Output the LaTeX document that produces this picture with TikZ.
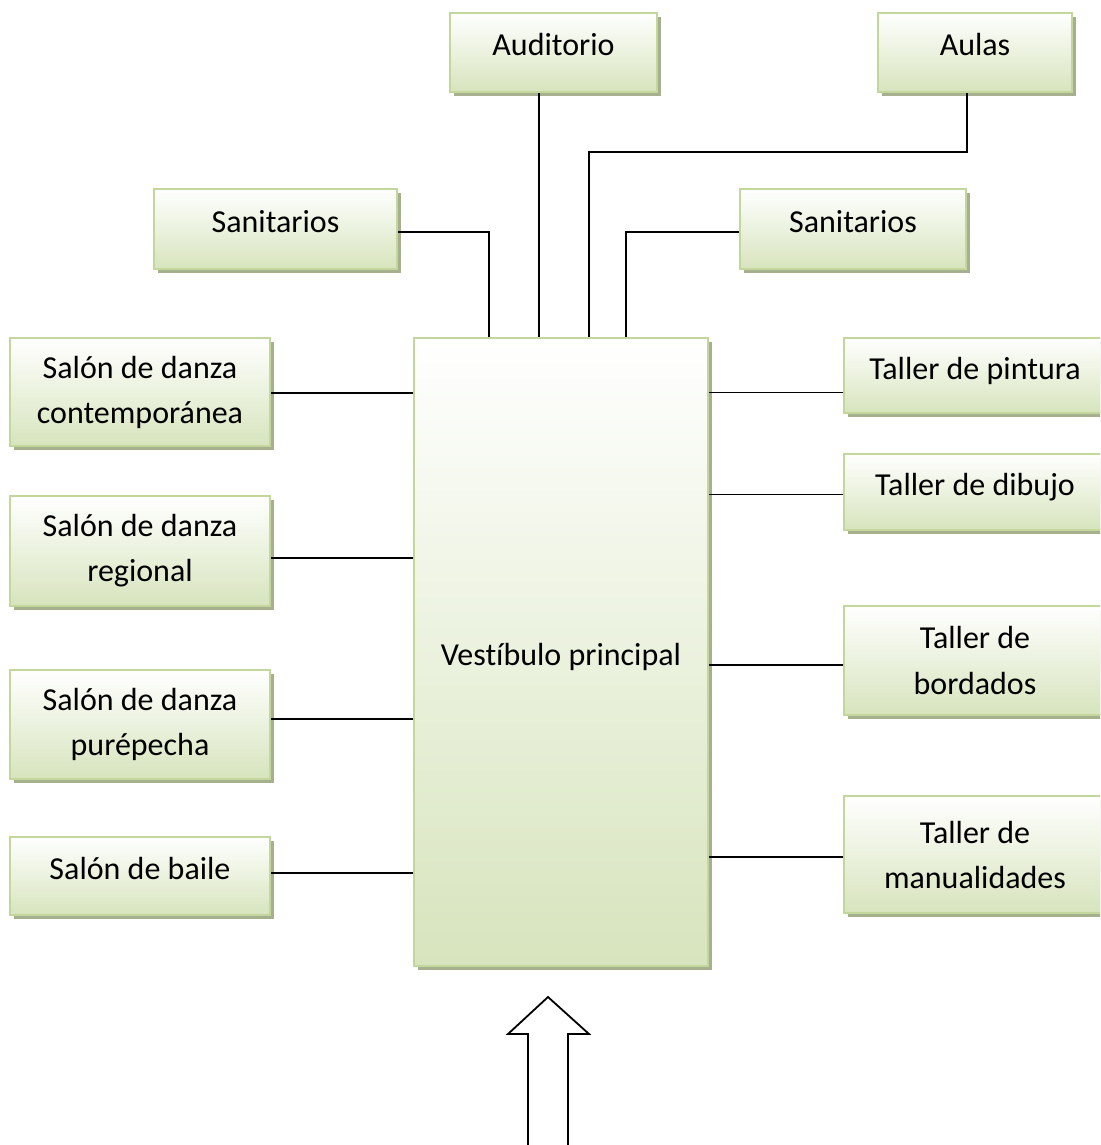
\documentclass[tikz,border=0pt]{standalone}
\usepackage{fontspec}
\setmainfont{Carlito}[Ligatures=NoCommon]
\usetikzlibrary{shadows,calc}
\definecolor{boxborder}{HTML}{C3D69B}
\definecolor{boxgreen}{HTML}{D7E4BD}
\definecolor{shadowc}{HTML}{A7B08E}
\begin{document}
\begin{tikzpicture}[x=1pt,y=-1pt,
  box/.style={draw=boxborder, line width=2.5pt, top color=white, bottom color=boxgreen,
    drop shadow={shadow xshift=4pt, shadow yshift=-4pt, fill=shadowc, opacity=1},
    align=center, inner sep=0pt, font=\fontsize{32}{45}\selectfont},
  one/.style={text height=24pt, text depth=17pt},
  conn/.style={line width=1.8pt, black},
  entry/.style={line width=1.8pt, black, fill=white, line join=miter}]
\useasboundingbox (0,0) rectangle (1100,1145);
\clip (0,0) rectangle (1100,1145);

% top
\node[box, one, minimum width=207pt, minimum height=79pt] (aud) at (553.5,52.5) {Auditorio};
\node[box, one, minimum width=194pt, minimum height=79pt] (aulas) at (975,52.5) {Aulas};
\node[box, one, minimum width=243pt, minimum height=80pt] (sanL) at (275.5,229) {Sanitarios};
\node[box, one, minimum width=226pt, minimum height=80pt] (sanR) at (853,229) {Sanitarios};

% centre
\node[box, text height=27pt, text depth=0pt, minimum width=294pt, minimum height=628pt] (vest) at (561,652) {Vestíbulo principal};

% left
\node[box, minimum width=260pt, minimum height=108pt] (dc) at (140,392) {Salón de danza\\contemporánea};
\node[box, minimum width=260pt, minimum height=110pt] (dr) at (140,551) {Salón de danza\\regional};
\node[box, minimum width=260pt, minimum height=109pt] (dp) at (140,724.5) {Salón de danza\\purépecha};
\node[box, one, minimum width=260pt, minimum height=78pt] (db) at (140,876) {Salón de baile};

% right
\node[box, one, minimum width=262pt, minimum height=75pt] (tp) at (975,375.5) {Taller de pintura};
\node[box, one, minimum width=262pt, minimum height=76pt] (td) at (975,492) {Taller de dibujo};
\node[box, minimum width=262pt, minimum height=109pt] (tb) at (975,660.5) {Taller de\\bordados};
\node[box, minimum width=262pt, minimum height=117pt] (tm) at (975,854.5) {Taller de\\manualidades};

% top connectors
\draw[conn] ([yshift=-3pt]sanL.east) -| ($(vest.north west)+(76,0)$);
\draw[conn] ([xshift=-14.5pt]aud.south) -- ([xshift=-14.5pt]aud.south |- vest.north);
\draw[conn] ([xshift=-8pt]aulas.south) -- ++(0,59) -| ($(vest.north west)+(176,0)$);
\draw[conn] ([yshift=-3pt]sanR.west) -| ($(vest.north west)+(213,0)$);

% left connectors
\draw[conn] ([yshift=-1pt]dc.east) -- ([yshift=-1pt]dc.east -| vest.west);
\draw[conn] ([yshift=-7pt]dr.east) -- ([yshift=-7pt]dr.east -| vest.west);
\draw[conn] ([yshift=5.5pt]dp.east) -- ([yshift=5.5pt]dp.east -| vest.west);
\draw[conn] ([yshift=3pt]db.east) -- ([yshift=3pt]db.east -| vest.west);

% right connectors
\draw[conn] ([yshift=-17pt]tp.west) -- ([yshift=-17pt]tp.west -| vest.east);
\draw[conn] ([yshift=-2.5pt]td.west) -- ([yshift=-2.5pt]td.west -| vest.east);
\draw[conn] ([yshift=-4.5pt]tb.west) -- ([yshift=-4.5pt]tb.west -| vest.east);
\draw[conn] ([yshift=-2.5pt]tm.west) -- ([yshift=-2.5pt]tm.west -| vest.east);

% entrance arrow
\draw[entry] (528,1152) -- (528,1034) -- (508,1034) -- (548,997) -- (589,1034) -- (568,1034) -- (568,1152);
\end{tikzpicture}
\end{document}
